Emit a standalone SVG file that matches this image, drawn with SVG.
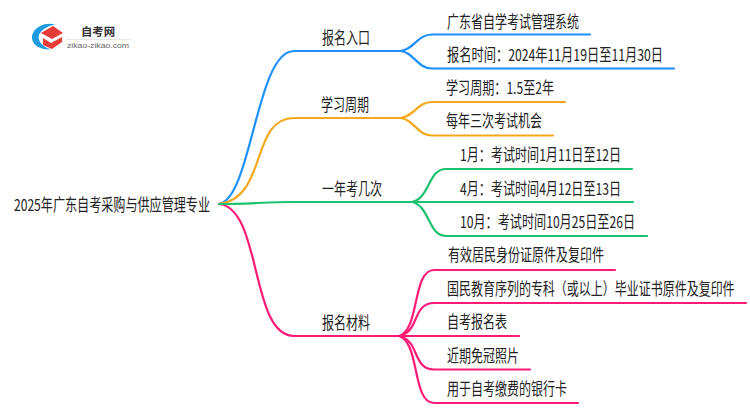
<svg xmlns="http://www.w3.org/2000/svg" width="750" height="410" viewBox="0 0 750 410">
<style>
text{font-family:"Noto Sans CJK SC","Liberation Sans",sans-serif;font-size:16.5px;fill:#222}
.c path{fill:none;stroke-width:2.2;stroke-linecap:round}
.b path{stroke:#1e90ff}.o path{stroke:#f5a81c}.g path{stroke:#1cc26e}.p path{stroke:#ff1a75}
</style>
<rect width="750" height="410" fill="#fff"/>
<g id="logo">
<path d="M55 24.500C45 22 34 27 32 36C31 44 39 50 51 49.500C44 47 37 42 39 35C41 30 47 26 55 24.500Z" fill="#1e9be0"/>
<path d="M41 33L53 26L63 33L52 39Z" fill="#e63b36"/>
<path d="M43 38L51 43L62 37V42L52 49L43 45Z" fill="#e63b36"/>
<text x="81" y="36" textLength="34" lengthAdjust="spacingAndGlyphs" style="font-size:11.5px;font-weight:700;fill:#333">自考网</text>
<path d="M66 39.500H131" stroke="#e6e6e6" stroke-width="1"/>
<text x="67" y="47.500" textLength="62" lengthAdjust="spacingAndGlyphs" style="font-size:8px;fill:#666;font-family:'Liberation Sans',sans-serif">zikao-zikao.com</text>
</g>
<g id="connectors" class="c">
<g class="b">
<path d="M219 204C252 198 256 51 294 51H400"/>
<path d="M400 51C414 50 417 34.500 432 34.500H590"/>
<path d="M400 51C414 52 417 68.500 432 68.500H674"/>
</g>
<g class="o">
<path d="M219 204C268 198 250 118 294 118H400"/>
<path d="M400 118C414 117 417 102 432 102H565"/>
<path d="M400 118C414 119 417 135.500 432 135.500H553"/>
</g>
<g class="p">
<path d="M219 204C262 208 250 336 294 336H400"/>
<path d="M399 336C420 330 412 270 434 270H615"/>
<path d="M399 336C420 332 412 303 434 303H746"/>
<path d="M399 336H519"/>
<path d="M399 336C420 340 412 369.500 434 369.500H530"/>
<path d="M399 336C420 342 412 403 434 403H578"/>
</g>
<g class="g">
<path d="M219 204C250 204 265 202 294 202H412"/>
<path d="M412 202C430 198 428 169 446 169H632"/>
<path d="M412 202H633"/>
<path d="M412 202C430 206 428 236 446 236H647"/>
</g>
</g>
<g id="root"><text x="14" y="211" textLength="196" lengthAdjust="spacingAndGlyphs">2025年广东自考采购与供应管理专业</text></g>
<g id="n1"><text x="322" y="44" textLength="48" lengthAdjust="spacingAndGlyphs">报名入口</text></g>
<g id="n1a"><text x="447" y="28" textLength="132" lengthAdjust="spacingAndGlyphs">广东省自学考试管理系统</text></g>
<g id="n1b"><text x="447" y="61" textLength="216" lengthAdjust="spacingAndGlyphs">报名时间：2024年11月19日至11月30日</text></g>
<g id="n2"><text x="321" y="111" textLength="48" lengthAdjust="spacingAndGlyphs">学习周期</text></g>
<g id="n2a"><text x="446" y="94" textLength="108" lengthAdjust="spacingAndGlyphs">学习周期：1.5至2年</text></g>
<g id="n2b"><text x="446" y="127" textLength="96" lengthAdjust="spacingAndGlyphs">每年三次考试机会</text></g>
<g id="n3"><text x="322" y="195" textLength="60" lengthAdjust="spacingAndGlyphs">一年考几次</text></g>
<g id="n3a"><text x="460" y="161" textLength="161" lengthAdjust="spacingAndGlyphs">1月：考试时间1月11日至12日</text></g>
<g id="n3b"><text x="460" y="195" textLength="161" lengthAdjust="spacingAndGlyphs">4月：考试时间4月12日至13日</text></g>
<g id="n3c"><text x="460" y="228" textLength="175" lengthAdjust="spacingAndGlyphs">10月：考试时间10月25日至26日</text></g>
<g id="n4"><text x="322" y="329" textLength="48" lengthAdjust="spacingAndGlyphs">报名材料</text></g>
<g id="n4a"><text x="448" y="261" textLength="156" lengthAdjust="spacingAndGlyphs">有效居民身份证原件及复印件</text></g>
<g id="n4b"><text transform="translate(447 295) scale(.7273 1)">国民教育序列的专科（或以上）毕业证书原件及复印件</text></g>
<g id="n4c"><text x="447" y="328" textLength="60" lengthAdjust="spacingAndGlyphs">自考报名表</text></g>
<g id="n4d"><text x="447" y="362" textLength="72" lengthAdjust="spacingAndGlyphs">近期免冠照片</text></g>
<g id="n4e"><text x="447" y="395" textLength="120" lengthAdjust="spacingAndGlyphs">用于自考缴费的银行卡</text></g>
</svg>
